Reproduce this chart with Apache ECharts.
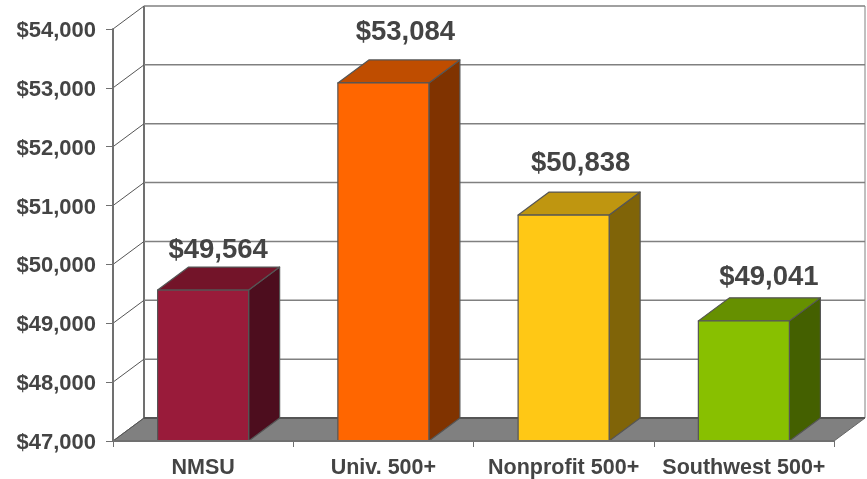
<!DOCTYPE html>
<html>
<head>
<meta charset="utf-8">
<style>html,body{margin:0;padding:0;background:#fff}#c{width:867px;height:479px}</style>
<script src="https://cdn.jsdelivr.net/npm/echarts@6/dist/echarts.min.js"></script>
</head>
<body>
<div id="c"></div>
<script>
const categories = ['NMSU', 'Univ. 500+', 'Nonprofit 500+', 'Southwest 500+'];
const salaries = [49564, 53084, 50838, 49041];
const yTicks = [47000, 48000, 49000, 50000, 51000, 52000, 53000, 54000];
const frontColors = ['#991B3A', '#FF6600', '#FFC815', '#88C000'];
const topColors = ['#731429', '#BF4D00', '#BF9610', '#669000'];
const sideColors = ['#4D0D1E', '#803300', '#806408', '#446000'];
const labelShift = [[15, -40], [22, -50], [17, -52], [25, -43]];

const DX = 31, DY = -23, BAR_RATIO = 0.505;
const FONT = '"Liberation Sans", Arial, sans-serif';
const TEXT = '#444444';
const EDGE = '#555555';
const money = v => '$' + v.toLocaleString('en-US');

function renderWall(params, api) {
  const cs = params.coordSys;
  const y = api.coord([0, api.value(1)])[1];
  const x0 = cs.x, x1 = cs.x + cs.width;
  const kids = [];
  if (api.value(1) === yTicks[0]) {
    kids.push({
      type: 'polygon',
      shape: { points: [[x0, y], [x1, y], [x1 + DX, y + DY], [x0 + DX, y + DY]] },
      style: { fill: '#808080', stroke: '#666666', lineWidth: 1 }
    });
    const topY = y - cs.height;
    kids.push({ type: 'line', shape: { x1: x0 + DX, y1: y + DY, x2: x0 + DX, y2: topY + DY }, style: { stroke: '#707070', lineWidth: 2 } });
    kids.push({ type: 'line', shape: { x1: x1 + DX, y1: y + DY, x2: x1 + DX, y2: topY + DY }, style: { stroke: '#808080', lineWidth: 1 } });
  }
  kids.push({ type: 'line', shape: { x1: x0 + DX, y1: y + DY, x2: x1 + DX, y2: y + DY }, style: api.value(1) === yTicks[0] ? { stroke: '#555555', lineWidth: 2 } : { stroke: '#808080', lineWidth: 1.5 } });
  kids.push({ type: 'line', shape: { x1: x0, y1: y, x2: x0 + DX, y2: y + DY }, style: { stroke: '#555555', lineWidth: 1 } });
  kids.push({ type: 'text', style: { text: money(api.value(1)), x: x0 - 17, y: y + 2, align: 'right', verticalAlign: 'middle', fill: TEXT, font: 'bold 22px ' + FONT } });
  return { type: 'group', children: kids };
}

function renderBar(params, api) {
  const i = api.value(0);
  const c = api.coord([i, api.value(1)]);
  const base = api.coord([i, yTicks[0]]);
  const w = api.size([1, 0])[0] * BAR_RATIO;
  const l = c[0] - w / 2, r = c[0] + w / 2, t = c[1], b = base[1];
  const edge = { stroke: EDGE, lineWidth: 1.2, lineJoin: 'round' };
  return {
    type: 'group',
    children: [
      { type: 'polygon', shape: { points: [[r, b], [r + DX, b + DY], [r + DX, t + DY], [r, t]] }, style: Object.assign({ fill: sideColors[i] }, edge) },
      { type: 'polygon', shape: { points: [[l, t], [r, t], [r + DX, t + DY], [l + DX, t + DY]] }, style: Object.assign({ fill: topColors[i] }, edge) },
      { type: 'rect', shape: { x: l, y: t, width: w, height: b - t }, style: Object.assign({ fill: frontColors[i] }, edge) },
      { type: 'text', z2: 50, style: { text: money(api.value(1)), x: c[0] + labelShift[i][0], y: t + labelShift[i][1], align: 'center', verticalAlign: 'middle', fill: TEXT, font: 'bold 27.5px ' + FONT } }
    ]
  };
}

const chart = echarts.init(document.getElementById('c'), null, { renderer: 'canvas' });
chart.setOption({
  animation: false,
  backgroundColor: '#ffffff',
  grid: { left: 113, right: 33, top: 29, bottom: 38 },
  xAxis: {
    type: 'category', data: categories, z: 6,
    axisLine: { show: true, lineStyle: { color: '#707070', width: 2 } },
    axisTick: { show: true, alignWithLabel: false, length: 6, lineStyle: { color: '#707070', width: 1 } },
    axisLabel: { color: TEXT, fontFamily: FONT, fontWeight: 'bold', fontSize: 21.5, margin: 16, interval: 0 },
    splitLine: { show: false }
  },
  yAxis: {
    type: 'value', min: 47000, max: 54000, interval: 1000, z: 6,
    axisLine: { show: true, lineStyle: { color: '#707070', width: 2 } },
    axisTick: { show: true, length: 7, lineStyle: { color: '#707070', width: 1 } },
    axisLabel: { show: false },
    splitLine: { show: false }
  },
  series: [
    { type: 'custom', z: 1, renderItem: renderWall, silent: true, clip: false, encode: { x: 0, y: 1 }, data: yTicks.map(v => [0, v]) },
    { type: 'custom', z: 2, renderItem: renderBar, silent: true, clip: false, encode: { x: 0, y: 1 }, data: salaries.map((v, i) => [i, v]) }
  ]
});
</script>
</body>
</html>
